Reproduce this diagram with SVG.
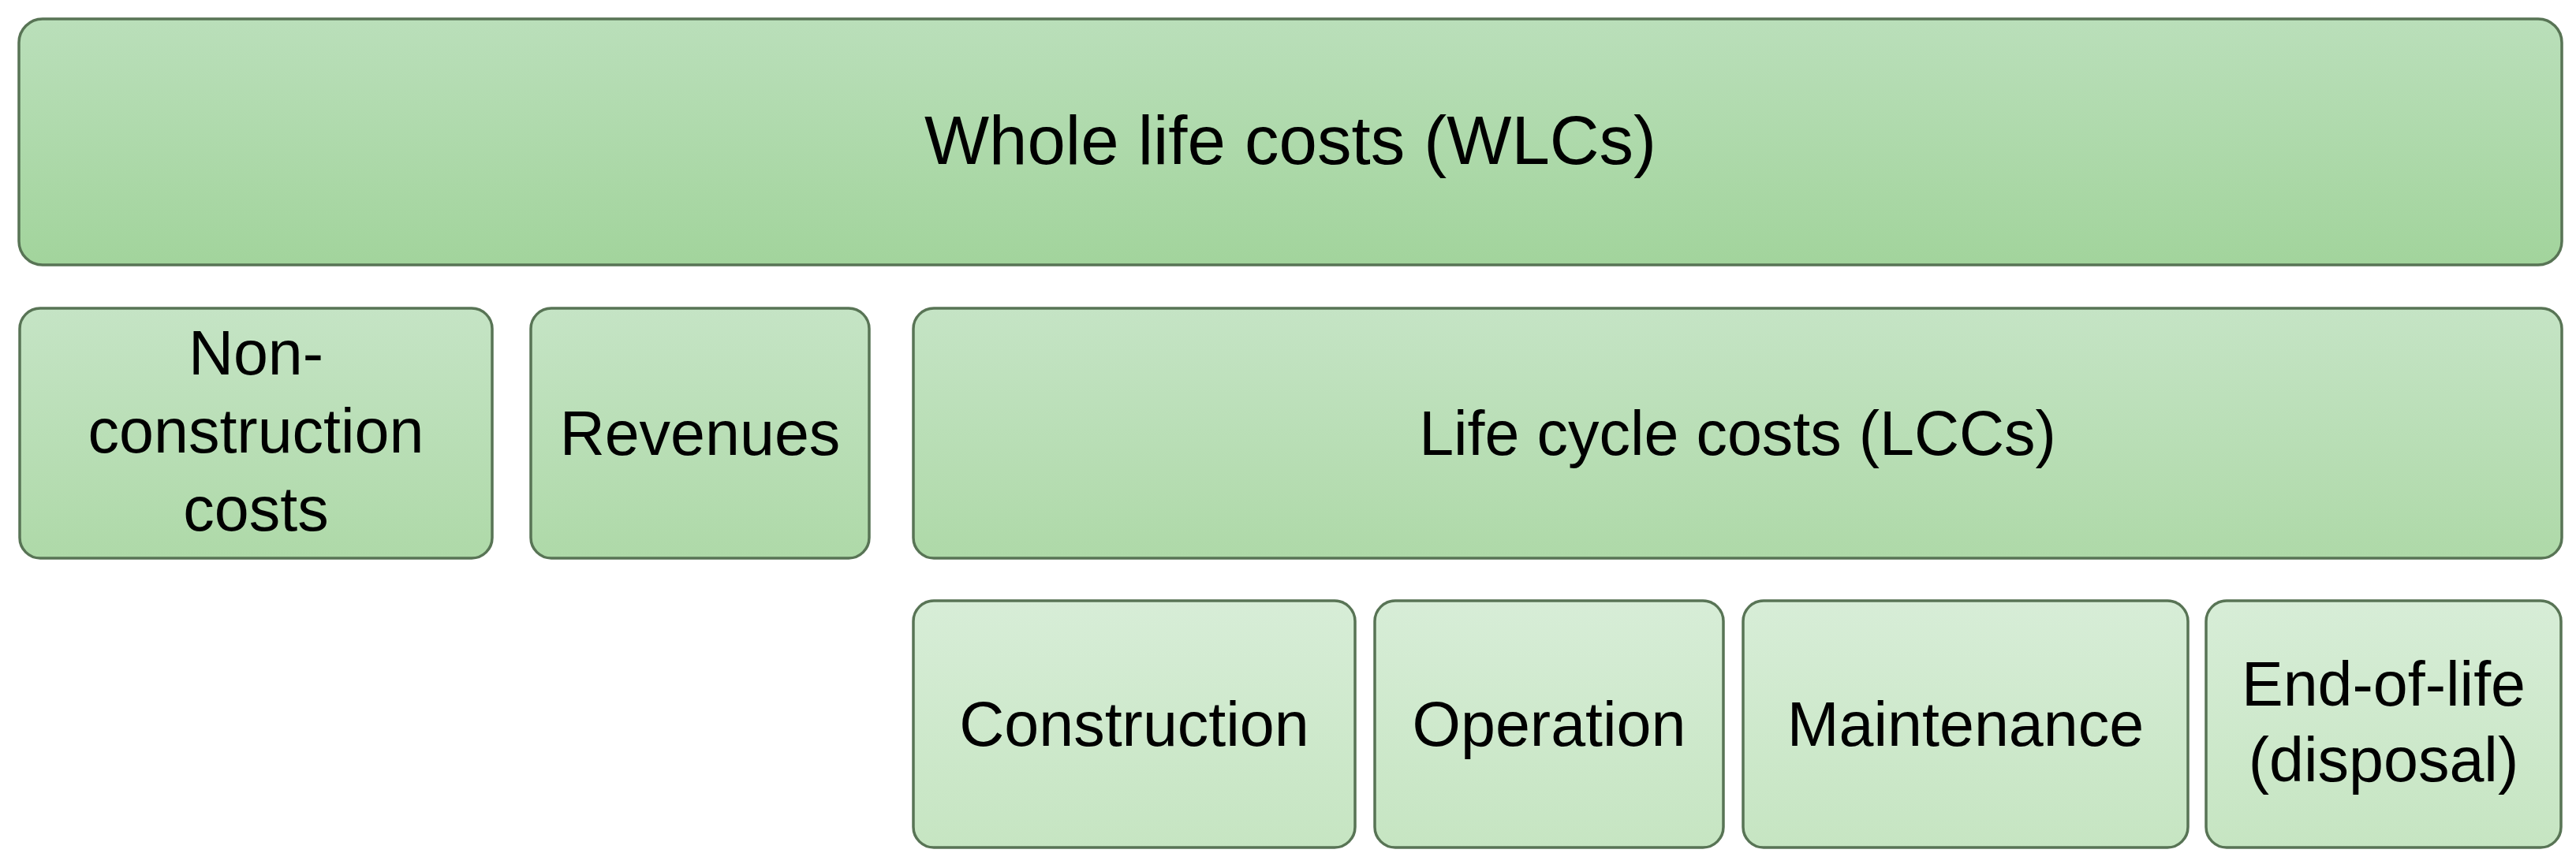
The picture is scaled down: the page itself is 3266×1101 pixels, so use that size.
<svg xmlns="http://www.w3.org/2000/svg" width="3266" height="1101" viewBox="0 0 3266 1101">
<style>
  .box { stroke: #587455; stroke-width: 3.5; }
  .t1 { fill: url(#g1); }
  .t2 { fill: url(#g2); }
  .t3 { fill: url(#g3); }
  text { font-family: "Liberation Sans", Arial, sans-serif; fill: #000; text-anchor: middle; }
  .big { font-size: 87px; }
  .mid { font-size: 79px; }
</style>
<defs>
  <linearGradient id="g1" x1="0" y1="0" x2="0" y2="1">
    <stop offset="0" stop-color="#badfba"/>
    <stop offset="1" stop-color="#a2d49c"/>
  </linearGradient>
  <linearGradient id="g2" x1="0" y1="0" x2="0" y2="1">
    <stop offset="0" stop-color="#c5e4c5"/>
    <stop offset="1" stop-color="#aed9a8"/>
  </linearGradient>
  <linearGradient id="g3" x1="0" y1="0" x2="0" y2="1">
    <stop offset="0" stop-color="#d7edd7"/>
    <stop offset="1" stop-color="#c6e5c2"/>
  </linearGradient>
</defs>
<rect width="3266" height="1101" fill="#ffffff"/>
<g id="wlc">
  <rect class="box t1" x="24" y="24" width="3224" height="312" rx="30"/>
  <text class="big" x="1636" y="208">Whole life costs (WLCs)</text>
</g>
<g id="non-construction">
  <rect class="box t2" x="25" y="391" width="599" height="317" rx="26"/>
  <text class="mid" x="324.5" y="475">Non-</text>
  <text class="mid" x="324.5" y="574">construction</text>
  <text class="mid" x="324.5" y="673">costs</text>
</g>
<g id="revenues">
  <rect class="box t2" x="673" y="391" width="429" height="317" rx="26"/>
  <text class="mid" x="887.5" y="577">Revenues</text>
</g>
<g id="lcc">
  <rect class="box t2" x="1158" y="391" width="2090" height="317" rx="26"/>
  <text class="mid" x="2203" y="577">Life cycle costs (LCCs)</text>
</g>
<g id="construction">
  <rect class="box t3" x="1158" y="762" width="560" height="313" rx="26"/>
  <text class="mid" x="1438" y="946">Construction</text>
</g>
<g id="operation">
  <rect class="box t3" x="1743" y="762" width="442" height="313" rx="26"/>
  <text class="mid" x="1964" y="946">Operation</text>
</g>
<g id="maintenance">
  <rect class="box t3" x="2210" y="762" width="564" height="313" rx="26"/>
  <text class="mid" x="2492" y="946">Maintenance</text>
</g>
<g id="end-of-life">
  <rect class="box t3" x="2797" y="762" width="450" height="313" rx="26"/>
  <text class="mid" x="3022" y="895">End-of-life</text>
  <text class="mid" x="3022" y="991">(disposal)</text>
</g>
<g id="connectors"/>
</svg>
